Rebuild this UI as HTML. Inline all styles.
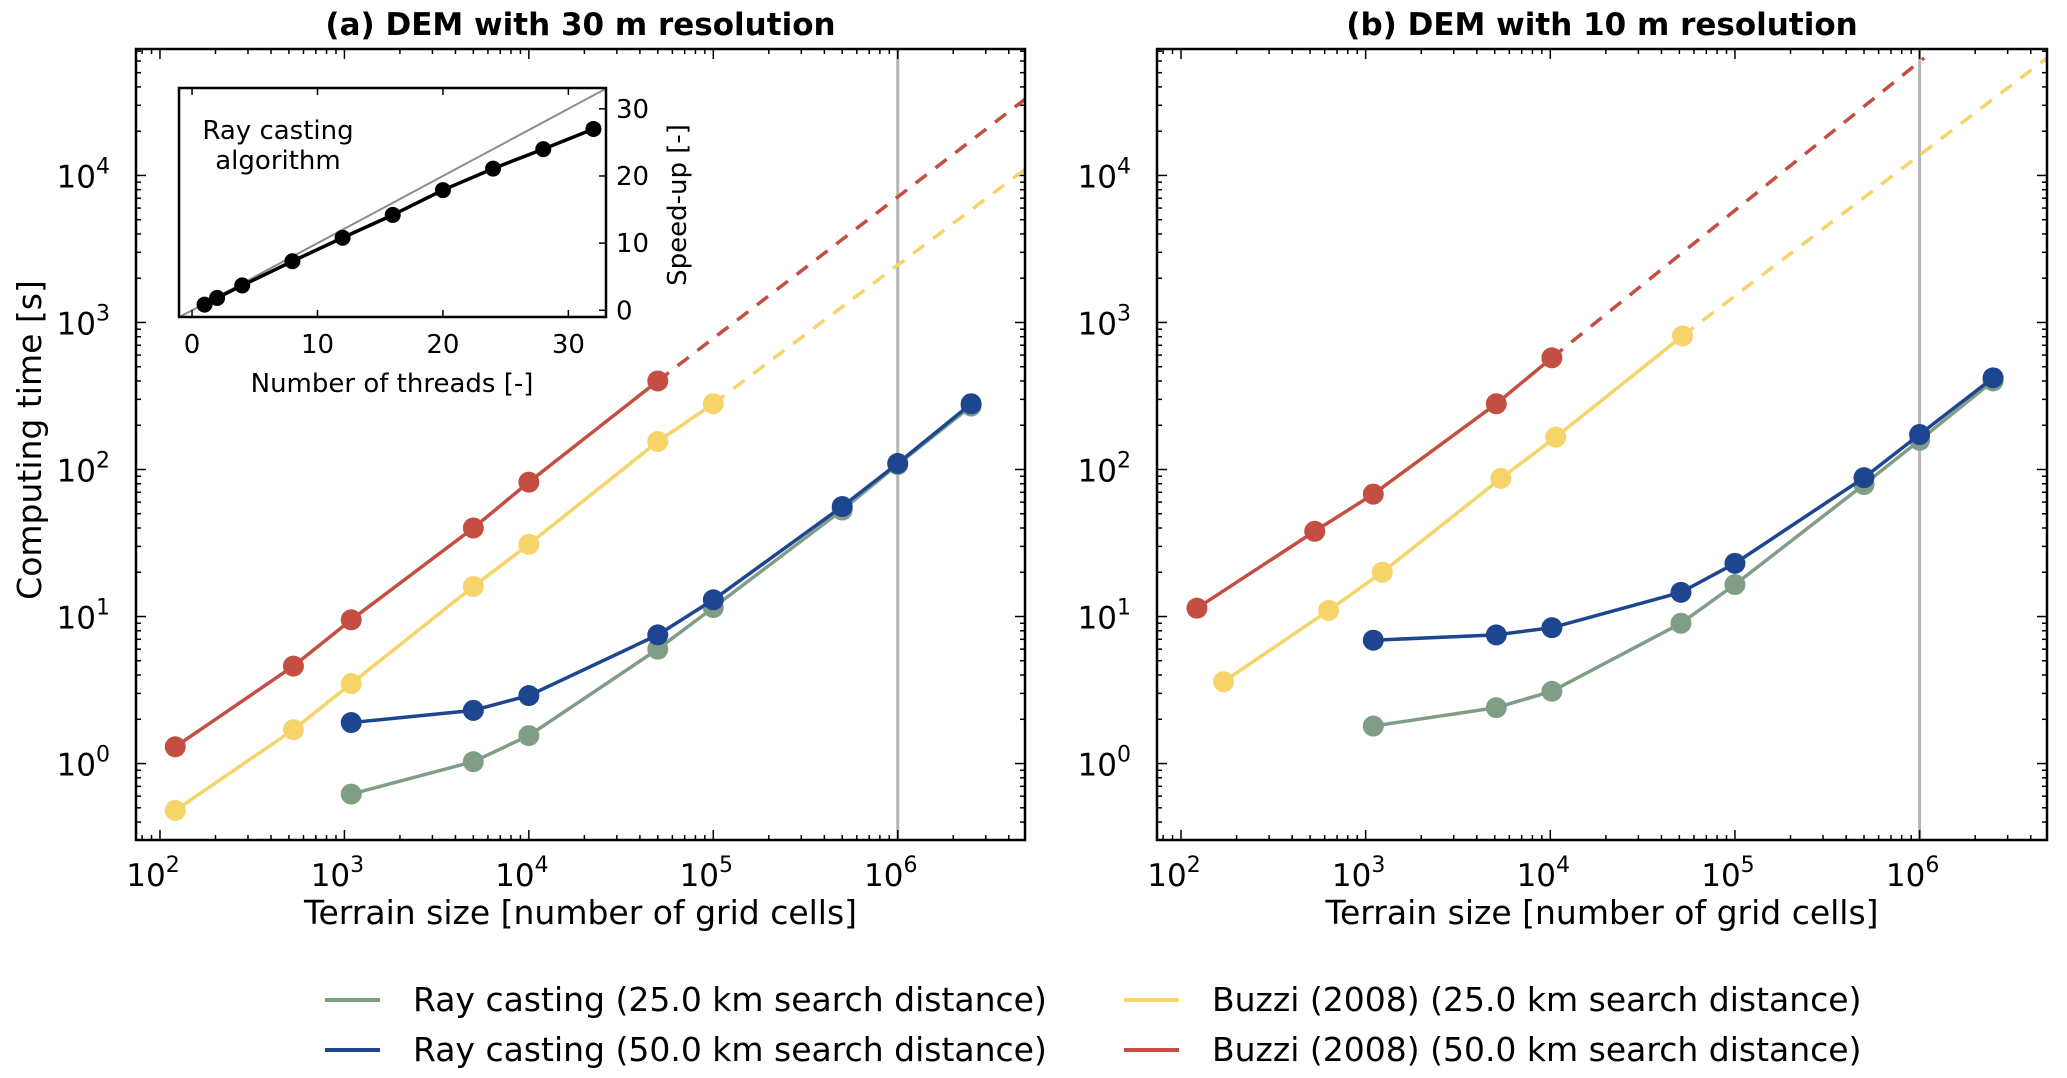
<!DOCTYPE html>
<html><head><meta charset="utf-8"><style>
html,body{margin:0;padding:0;background:#fff;}
svg{display:block;font-family:"DejaVu Sans","Liberation Sans",sans-serif;}
</style></head><body>
<svg id="fig" width="2067" height="1078" viewBox="0 0 2067 1078" xmlns="http://www.w3.org/2000/svg"></svg>
<script>
// ---- data ----
const panelTitles = ["(a) DEM with 30 m resolution", "(b) DEM with 10 m resolution"];
const xTickExps = [2,3,4,5,6];
const yTickExps = [0,1,2,3,4];
// panel a
const aGreenX = [1089,5000,10000,50000,100000,500000,1000000,2500000];
const aGreenY = [0.62,1.03,1.55,6.0,11.5,53,108,270];
const aBlueX  = [1089,5000,10000,50000,100000,500000,1000000,2500000];
const aBlueY  = [1.9,2.3,2.9,7.5,13,56,110,280];
const aYellowX = [121,529,1089,5000,10000,50000,100000];
const aYellowY = [0.48,1.7,3.5,16,31,155,280];
const aRedX = [121,529,1089,5000,10000,50000];
const aRedY = [1.3,4.6,9.5,40,82,400];
const aYellowDashX = [100000,4900000];
const aYellowDashY = [280,11000];
const aRedDashX = [50000,4900000];
const aRedDashY = [400,33000];
// panel b
const bGreenX = [1100,5100,10200,51000,100000,500000,1000000,2500000];
const bGreenY = [1.8,2.4,3.1,9,16.5,79,158,400];
const bBlueX  = [1100,5100,10200,51000,100000,500000,1000000,2500000];
const bBlueY  = [6.9,7.5,8.4,14.6,23,88,173,420];
const bYellowX = [170,630,1230,5400,10700,52000];
const bYellowY = [3.6,11,20,87,166,810];
const bRedX = [122,530,1100,5100,10200];
const bRedY = [11.4,38,68,280,575];
const bYellowDashX = [52000,4900000];
const bYellowDashY = [810,63000];
const bRedDashX = [10200,1060000];
const bRedDashY = [575,63000];
// inset
const insetThreads = [1,2,4,8,12,16,20,24,28,32];
const insetSpeedup = [0.85,1.84,3.7,7.3,10.8,14.2,17.9,21.1,24.0,27.0];
const insetXTicks = [0,10,20,30];
const insetYTicks = [0,10,20,30];
const legendLabels = ["Ray casting (25.0 km search distance)","Ray casting (50.0 km search distance)","Buzzi (2008) (25.0 km search distance)","Buzzi (2008) (50.0 km search distance)"];

const C = {green:"#809e86", blue:"#1e4690", yellow:"#f6d46a", red:"#c44e42"};
const NS="http://www.w3.org/2000/svg";
const svg=document.getElementById('fig');
function mk(tag,attrs,parent){const e=document.createElementNS(NS,tag);for(const k in attrs)e.setAttribute(k,attrs[k]);(parent||svg).appendChild(e);return e;}

const panels=[
 {L:136,R:1025,T:49,B:840, name:'panel-a',
  series:[['green',aGreenX,aGreenY],['blue',aBlueX,aBlueY],['yellow',aYellowX,aYellowY],['red',aRedX,aRedY]],
  dashes:[['yellow',aYellowDashX,aYellowDashY],['red',aRedDashX,aRedDashY]], ylab:true},
 {L:1157,R:2047,T:49,B:840, name:'panel-b',
  series:[['green',bGreenX,bGreenY],['blue',bBlueX,bBlueY],['yellow',bYellowX,bYellowY],['red',bRedX,bRedY]],
  dashes:[['yellow',bYellowDashX,bYellowDashY],['red',bRedDashX,bRedDashY]], ylab:false}
];
const XMIN=1.87, XMAX=6.69, YMIN=-0.52, YMAX=4.86;

panels.forEach((p,pi)=>{
 const g=mk('g',{});
 
 
 const xs=v=>p.L+(Math.log10(v)-XMIN)/(XMAX-XMIN)*(p.R-p.L);
 const ys=v=>p.B-(Math.log10(v)-YMIN)/(YMAX-YMIN)*(p.B-p.T);
 const clip=mk('clipPath',{id:'clip'+pi},g);
 mk('rect',{x:p.L,y:p.T,width:p.R-p.L,height:p.B-p.T},clip);
 const t=mk('text',{x:(p.L+p.R)/2,y:35,'text-anchor':'middle','font-size':31,'font-weight':'bold'},g);
 t.textContent=panelTitles[pi];
 
 
 const vl=mk('line',{x1:xs(1e6),x2:xs(1e6),y1:p.T,y2:p.B,stroke:'#b5b5b5','stroke-width':3},g);
 
 
 const tg=mk('g',{stroke:'#000','stroke-width':1.5},g);
 for(let e=1;e<=7;e++){for(let m=1;m<10;m++){const v=m*Math.pow(10,e);const lv=Math.log10(v);if(lv<XMIN||lv>XMAX)continue;const x=xs(v);const len=m==1?10:5;
   mk('line',{x1:x,x2:x,y1:p.B,y2:p.B-len},tg);mk('line',{x1:x,x2:x,y1:p.T,y2:p.T+len},tg);}}
 for(let e=-1;e<=5;e++){for(let m=1;m<10;m++){const v=m*Math.pow(10,e);const lv=Math.log10(v);if(lv<YMIN||lv>YMAX)continue;const y=ys(v);const len=m==1?10:5;
   mk('line',{x1:p.L,x2:p.L+len,y1:y,y2:y},tg);mk('line',{x1:p.R,x2:p.R-len,y1:y,y2:y},tg);}}
 xTickExps.forEach(e=>{const tx=mk('text',{x:xs(Math.pow(10,e))-7,y:p.B+46,'text-anchor':'middle','font-size':31},g);
   tx.innerHTML='10<tspan dy="-14" font-size="22">'+e+'</tspan>';
   
   });
 yTickExps.forEach(e=>{const tx=mk('text',{x:p.L-26,y:ys(Math.pow(10,e))+12,'text-anchor':'end','font-size':31},g);
   tx.innerHTML='10<tspan dy="-14" font-size="22">'+e+'</tspan>';
   
   });
 const dg=mk('g',{'clip-path':'url(#clip'+pi+')'},g);
 p.dashes.forEach(([c,X,Y])=>{const d=mk('polyline',{points:X.map((x,i)=>xs(x)+','+ys(Y[i])).join(' '),fill:'none',stroke:C[c],'stroke-width':3.5,'stroke-dasharray':'14,11'},dg);
   
   });
 p.series.forEach(([c,X,Y])=>{const sg=mk('g',{},dg);
   
   
   mk('polyline',{points:X.map((x,i)=>xs(x)+','+ys(Y[i])).join(' '),fill:'none',stroke:C[c],'stroke-width':3.5},sg);
   X.forEach((x,i)=>{const pt=mk('circle',{cx:xs(x),cy:ys(Y[i]),r:10.5,fill:C[c]},sg);
     
     });});
 mk('rect',{x:p.L,y:p.T,width:p.R-p.L,height:p.B-p.T,fill:'none',stroke:'#000','stroke-width':2.5},g);
 const xl=mk('text',{x:(p.L+p.R)/2,y:924,'text-anchor':'middle','font-size':33},g);
 xl.textContent='Terrain size [number of grid cells]';
 
 
 if(p.ylab){const yl=mk('text',{x:0,y:0,'text-anchor':'middle','font-size':33,transform:'translate(41,440) rotate(-90)'},g);
   yl.textContent='Computing time [s]';
   
   }
});

// inset
(function(){
 const L=179,R=606,T=88,B=317;
 const g=mk('g',{});
 
 
 mk('rect',{x:L,y:T,width:R-L,height:B-T,fill:'#fff'},g);
 const xs=v=>L+(v+1.04)/(33.0+1.04)*(R-L);
 const ys=v=>B-(v+1.0)/(33.1+1.0)*(B-T);
 const cp=mk('clipPath',{id:'clipIn'},g);mk('rect',{x:L,y:T,width:R-L,height:B-T},cp);
 const ig=mk('g',{'clip-path':'url(#clipIn)'},g);
 const ideal=mk('line',{x1:xs(-2),y1:ys(-2),x2:xs(40),y2:ys(40),stroke:'#8c8c8c','stroke-width':2},ig);
 
 
 mk('polyline',{points:insetThreads.map((x,i)=>xs(x)+','+ys(insetSpeedup[i])).join(' '),fill:'none',stroke:'#000','stroke-width':3.5},ig);
 insetThreads.forEach((x,i)=>{const c=mk('circle',{cx:xs(x),cy:ys(insetSpeedup[i]),r:8,fill:'#000'},ig);
   
   });
 insetXTicks.forEach(v=>{mk('line',{x1:xs(v),x2:xs(v),y1:B,y2:B-7,stroke:'#000','stroke-width':1.5},g);mk('line',{x1:xs(v),x2:xs(v),y1:T,y2:T+7,stroke:'#000','stroke-width':1.5},g);
   const t=mk('text',{x:xs(v),y:B+36,'text-anchor':'middle','font-size':26},g);t.textContent=v;
   
   });
 insetYTicks.forEach(v=>{mk('line',{x1:R,x2:R-7,y1:ys(v),y2:ys(v),stroke:'#000','stroke-width':1.5},g);
   const t=mk('text',{x:R+10,y:ys(v)+9,'font-size':26},g);t.textContent=v;
   
   });
 mk('rect',{x:L,y:T,width:R-L,height:B-T,fill:'none',stroke:'#000','stroke-width':2.5},g);
 const a=mk('text',{x:278,y:139,'text-anchor':'middle','font-size':26},g);a.textContent='Ray casting';
 
 
 const b=mk('text',{x:278,y:169,'text-anchor':'middle','font-size':26},g);b.textContent='algorithm';
 
 
 const xl=mk('text',{x:392,y:392,'text-anchor':'middle','font-size':26},g);xl.textContent='Number of threads [-]';
 
 
 const yl=mk('text',{x:0,y:0,'text-anchor':'middle','font-size':26,transform:'translate(686,205) rotate(-90)'},g);yl.textContent='Speed-up [-]';
 
 
})();

// legend
(function(){
 const g=mk('g',{});
 
 
 const pos=[[325,1000,'green'],[325,1050,'blue'],[1124,1000,'yellow'],[1124,1050,'red']];
 pos.forEach(([x,y,c],i)=>{const eg=mk('g',{},g);
   
   
   mk('line',{x1:x,x2:x+55,y1:y,y2:y,stroke:C[c],'stroke-width':4},eg);
   const t=mk('text',{x:x+88,y:y+11,'font-size':33},eg);t.textContent=legendLabels[i];});
})();
</script>
</body></html>
